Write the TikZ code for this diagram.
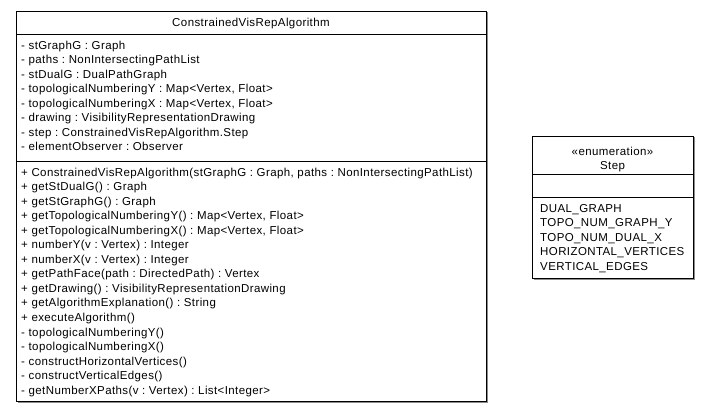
\documentclass[tikz,border=0pt]{standalone}
\usepackage{fontspec}
\setmainfont{Liberation Sans}[LetterSpace=3.5]
\frenchspacing
\begin{document}
\begin{tikzpicture}[x=1pt,y=-1pt,
  txt/.style={inner sep=0pt,anchor=base west,font=\fontsize{11.5}{13}\selectfont},
  ctxt/.style={inner sep=0pt,anchor=base,font=\fontsize{11.5}{13}\selectfont},
  boxline/.style={draw=black,line width=1pt},
  shadow/.style={draw=black!45,line width=1pt}]
\useasboundingbox (0,0) rectangle (708,413);
% main class box
\draw[shadow] (17.5,402.5) -- (487.5,402.5) -- (487.5,12);
\draw[boxline] (16,11) rectangle (486,401.5);
\draw[boxline] (16,34) -- (486,34);
\draw[boxline] (16,161) -- (486,161);
\node[ctxt] (title) at (251,26) {ConstrainedVisRepAlgorithm};
\foreach \t [count=\i from 0] in {
 {- stGraphG : Graph},
 {- paths : NonIntersectingPathList},
 {- stDualG : DualPathGraph},
 {- topologicalNumberingY : Map<Vertex, Float>},
 {- topologicalNumberingX : Map<Vertex, Float>},
 {- drawing : VisibilityRepresentationDrawing},
 {- step : ConstrainedVisRepAlgorithm.Step},
 {- elementObserver : Observer}}
 \node[txt] (a\i) at (21,49+14.55*\i) {\t};
\foreach \t [count=\i from 0] in {
 {+ ConstrainedVisRepAlgorithm(stGraphG : Graph, paths : NonIntersectingPathList)},
 {+ getStDualG() : Graph},
 {+ getStGraphG() : Graph},
 {+ getTopologicalNumberingY() : Map<Vertex, Float>},
 {+ getTopologicalNumberingX() : Map<Vertex, Float>},
 {+ numberY(v : Vertex) : Integer},
 {+ numberX(v : Vertex) : Integer},
 {+ getPathFace(path : DirectedPath) : Vertex},
 {+ getDrawing() : VisibilityRepresentationDrawing},
 {+ getAlgorithmExplanation() : String},
 {+ executeAlgorithm()},
 {- topologicalNumberingY()},
 {- topologicalNumberingX()},
 {- constructHorizontalVertices()},
 {- constructVerticalEdges()},
 {- getNumberXPaths(v : Vertex) : List<Integer>}}
 \node[txt] (m\i) at (21,176+14.55*\i) {\t};
% enumeration box
\draw[shadow] (533.5,279) -- (694.5,279) -- (694.5,137);
\draw[boxline] (532,136) rectangle (693,278);
\draw[boxline] (532,174) -- (693,174);
\draw[boxline] (532,197) -- (693,197);
\node[ctxt] (st) at (612.5,155) {«enumeration»};
\node[ctxt] (sn) at (612.5,169) {Step};
\foreach \t [count=\i from 0] in {DUAL\_GRAPH, TOPO\_NUM\_GRAPH\_Y, TOPO\_NUM\_DUAL\_X, HORIZONTAL\_VERTICES, VERTICAL\_EDGES}
 \node[txt] (e\i) at (540,212+14.55*\i) {\t};
\end{tikzpicture}
\end{document}
